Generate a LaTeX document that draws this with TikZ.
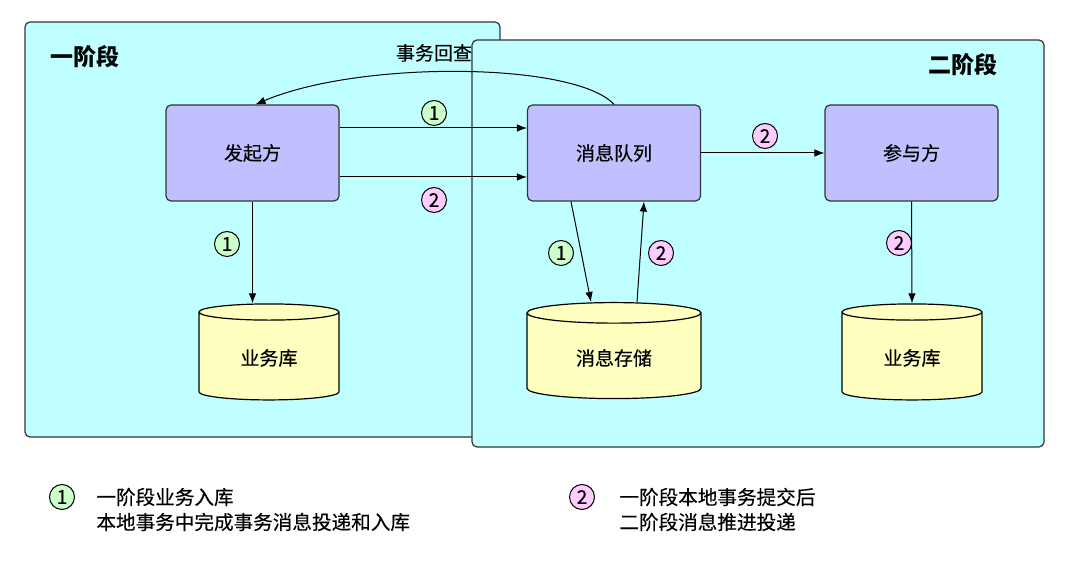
\documentclass[tikz,border=0pt]{standalone}
\usepackage{fontspec}
\setmainfont{Noto Sans CJK SC}[UprightFeatures={FakeBold=0.3}]
\usetikzlibrary{
    arrows.meta,
    shapes.geometric,
    calc,
    positioning
}
\definecolor{panelcyan}{HTML}{BFFFFF}
\definecolor{procblue}{HTML}{C0C0FF}
\definecolor{storeyellow}{HTML}{FFFFC0}
\definecolor{onegreen}{HTML}{CCFFCC}
\definecolor{twopink}{HTML}{FFCCFF}
\definecolor{edgegray}{HTML}{333333}

\begin{document}
\begin{tikzpicture}[x=0.5pt, y=-0.5pt,
    >={Latex[length=5pt, width=3.8pt]},
    panel/.style={draw=edgegray, fill=panelcyan, line width=0.6pt, rounded corners=2.5pt},
    phase/.style={font=\fontsize{11.5}{13}\selectfont\bfseries},
    proc/.style={draw=edgegray, fill=procblue, line width=0.6pt, rounded corners=2.5pt,
        minimum width=86.5pt, minimum height=48pt, font=\fontsize{9.5}{11}\selectfont},
    store/.style={cylinder, shape border rotate=90, aspect=0.23, draw=black, fill=storeyellow,
        line width=0.6pt, minimum width=70pt, minimum height=48pt, font=\fontsize{9.5}{11}\selectfont},
    numone/.style={circle, draw=black, fill=onegreen, line width=0.5pt, inner sep=0pt,
        minimum size=12.5pt, font=\fontsize{9.5}{10}\selectfont},
    numtwo/.style={numone, fill=twopink},
    legend/.style={inner sep=0pt, font=\fontsize{9.8}{11}\selectfont},
    flow/.style={->, line width=0.5pt}]
    \useasboundingbox (0,0) rectangle (1080,565);

    \draw[panel] (25,22) rectangle (500,437);
    \node[phase] (ph1) at (85,57) {一阶段};
    \node[font=\fontsize{9.5}{11}\selectfont] (chk) at (434,53) {事务回查};

    \draw[panel] (472,40) rectangle (1044,447);
    \node[phase] (ph2) at (963,65) {二阶段};

    \node[proc] (fq) at (252.5,153) {发起方};
    \node[proc] (mq) at (614,153) {消息队列};
    \node[proc] (pt) at (911.5,153) {参与方};
    \node[store] (db1) at (269,358) {业务库};
    \node[store, minimum width=87pt] (db2) at (614,358) {消息存储};
    \node[store] (db3) at (912,358) {业务库};

    \draw[flow] ([yshift=12.5pt]fq.east) -- ([yshift=12.5pt]mq.west);
    \draw[flow] ([yshift=-12pt]fq.east) -- ([yshift=-12pt]mq.west);
    \draw[flow] (mq.east) -- (pt.west);
    \draw[flow] (fq.south) -- (fq.south |- db1.north);
    \draw[flow] ([xshift=-21.5pt]mq.south) -- ([xshift=-11.5pt]db2.north);
    \draw[flow] ([xshift=11.5pt]db2.north) -- ([xshift=15pt]mq.south);
    \draw[flow] (pt.south) -- (db3.north);
    \draw[flow] (mq.north) .. controls (575,62) and (360,60) .. ([xshift=1.5pt]fq.north);

    \node[numone] (n1a) at (434,113) {1};
    \node[numtwo] (n2a) at (434,200) {2};
    \node[numtwo] (n2b) at (765,136) {2};
    \node[numone] (n1b) at (227,244) {1};
    \node[numone] (n1c) at (561,253) {1};
    \node[numtwo] (n2c) at (661,253) {2};
    \node[numtwo] (n2d) at (899,243) {2};

    \node[numone] (k1) at (62,497) {1};
    \node[legend, anchor=west] (k1a) at (96,497) {一阶段业务入库};
    \node[legend, anchor=west] (k1b) at (96,522) {本地事务中完成事务消息投递和入库};
    \node[numtwo] (k2) at (582,497) {2};
    \node[legend, anchor=west] (k2a) at (619,497) {一阶段本地事务提交后};
    \node[legend, anchor=west] (k2b) at (619,522) {二阶段消息推进投递};
\end{tikzpicture}
\end{document}
